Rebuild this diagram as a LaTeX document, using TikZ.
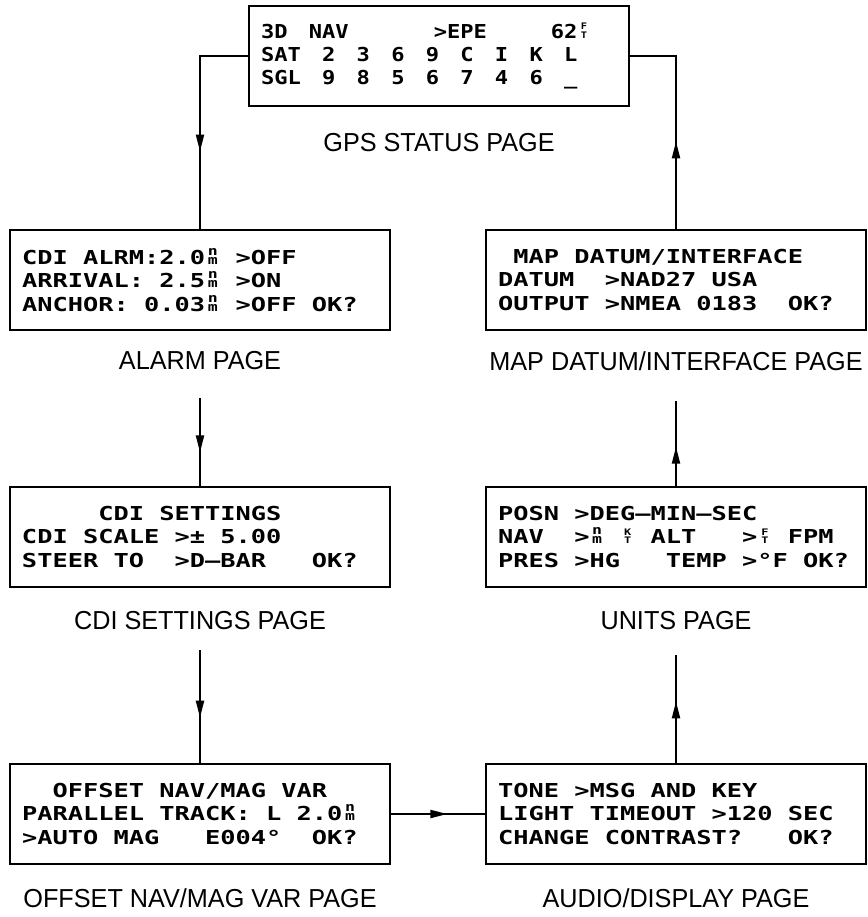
\documentclass[tikz,border=0pt]{standalone}
\usepackage{fontspec}
\usetikzlibrary{arrows.meta,positioning,decorations.markings}
\setmainfont{Liberation Sans}
\newfontfamily\lcdfont[FakeStretch=1.32]{DejaVu Sans Mono}
\newfontfamily\gpsfont[FakeStretch=1.15]{DejaVu Sans Mono}
\newfontfamily\pagefont[FakeStretch=0.97]{Liberation Sans}
\newcommand\lcdtext{\lcdfont\bfseries\fontsize{19.2pt}{23.5pt}\selectfont\frenchspacing}
\newcommand\gpstext{\gpsfont\bfseries\fontsize{19.2pt}{23pt}\selectfont\frenchspacing}
\newcommand\lcdgap{\spaceskip=\fontcharwd\font`\0\relax\xspaceskip=\spaceskip}
\newcommand\gpsgap{\spaceskip=1.6\fontcharwd\font`\0\relax\xspaceskip=\spaceskip}
\newcommand\unitsup[3][12.5pt]{\makebox[\fontcharwd\font`\0]{\vbox{\offinterlineskip\fontsize{#1}{#1}\selectfont
  \hbox to 12pt{\hss#2\hss}\kern2pt\hbox to 12pt{\hss#3\hss}}}}

\begin{document}
\begin{tikzpicture}[x=1pt,y=-1pt,
  lcdbox/.style={draw,line width=2.4pt,minimum width=380pt,minimum height=100pt,
                 inner xsep=12pt,text width=356pt,align=left,font=\lcdtext,
                 execute at begin node=\lcdgap},
  pglabel/.style={font=\pagefont\fontsize{26pt}{29pt}\selectfont,inner sep=0pt},
  conn/.style={line width=2pt},
  midarr/.style={postaction={decorate},decoration={markings,
                 mark=at position #1 with {\arrow{Triangle[length=17pt,width=8pt]}}}}]
\useasboundingbox (0,0) rectangle (867,917);
\node[lcdbox,font=\gpstext,execute at begin node=\gpsgap] (gps) at (439,56)
  {3D NAV~~~~>EPE~~~62\unitsup[9pt]{F}{T}\\SAT 2 3 6 9 C I K L\\SGL 9 8 5 6 7 4 6 \_};
\node[lcdbox] (alarm) at (200,280)
  {CDI ALRM:2.0\unitsup{n}{m} >OFF\\ARRIVAL: 2.5\unitsup{n}{m} >ON\\ANCHOR: 0.03\unitsup{n}{m} >OFF OK?};
\node[lcdbox] (map) at (676,280)
  {~MAP DATUM/INTERFACE\\DATUM~~>NAD27 USA\\OUTPUT >NMEA 0183~~OK?};
\node[lcdbox] (cdi) at (200,537)
  {~~~~~CDI SETTINGS\\CDI SCALE >± 5.00\\STEER TO~~>D–BAR~~~OK?};
\node[lcdbox] (units) at (676,537)
  {POSN >DEG–MIN–SEC\\NAV~~>\unitsup{n}{m} \unitsup[9pt]{K}{T} ALT~~~>\unitsup[9pt]{F}{T} FPM\\PRES >HG~~~TEMP >°F OK?};
\node[lcdbox] (offset) at (200,814)
  {~~OFFSET NAV/MAG VAR\\PARALLEL TRACK: L 2.0\unitsup{n}{m}\\>AUTO MAG~~~E004°~~OK?};
\node[lcdbox] (audio) at (676,814)
  {TONE >MSG AND KEY\\LIGHT TIMEOUT >120 SEC\\CHANGE CONTRAST?~~~OK?};
\node[pglabel,below=26pt of gps] (gpslbl) {GPS STATUS PAGE};
\node[pglabel,below=20pt of alarm] (alarmlbl) {ALARM PAGE};
\node[pglabel,below=20pt of map] (maplbl) {MAP DATUM/INTERFACE PAGE};
\node[pglabel,below=23pt of cdi] (cdilbl) {CDI SETTINGS PAGE};
\node[pglabel,below=23pt of units] (unitslbl) {UNITS PAGE};
\node[pglabel,below=23pt of offset] (offsetlbl) {OFFSET NAV/MAG VAR PAGE};
\node[pglabel,below=23pt of audio] (audiolbl) {AUDIO/DISPLAY PAGE};
\coordinate[below=28pt of alarmlbl] (a2);
\coordinate[below=30pt of maplbl] (m2);
\coordinate[below=20pt of cdilbl] (c3);
\coordinate[below=25pt of unitslbl] (u3);
\draw[conn,midarr=0.65] (gps.west) -| (alarm.north);
\draw[conn,midarr=0.40] (map.north) |- (gps.east);
\draw[conn,midarr=0.62] (a2) -- (cdi.north); \draw[conn,midarr=0.46] (units.north) -- (m2);
\draw[conn,midarr=0.6] (c3) -- (offset.north); \draw[conn,midarr=0.57] (audio.north) -- (u3);
\draw[conn,midarr=0.6] (offset.east) -- (audio.west);
\end{tikzpicture}
\end{document}
